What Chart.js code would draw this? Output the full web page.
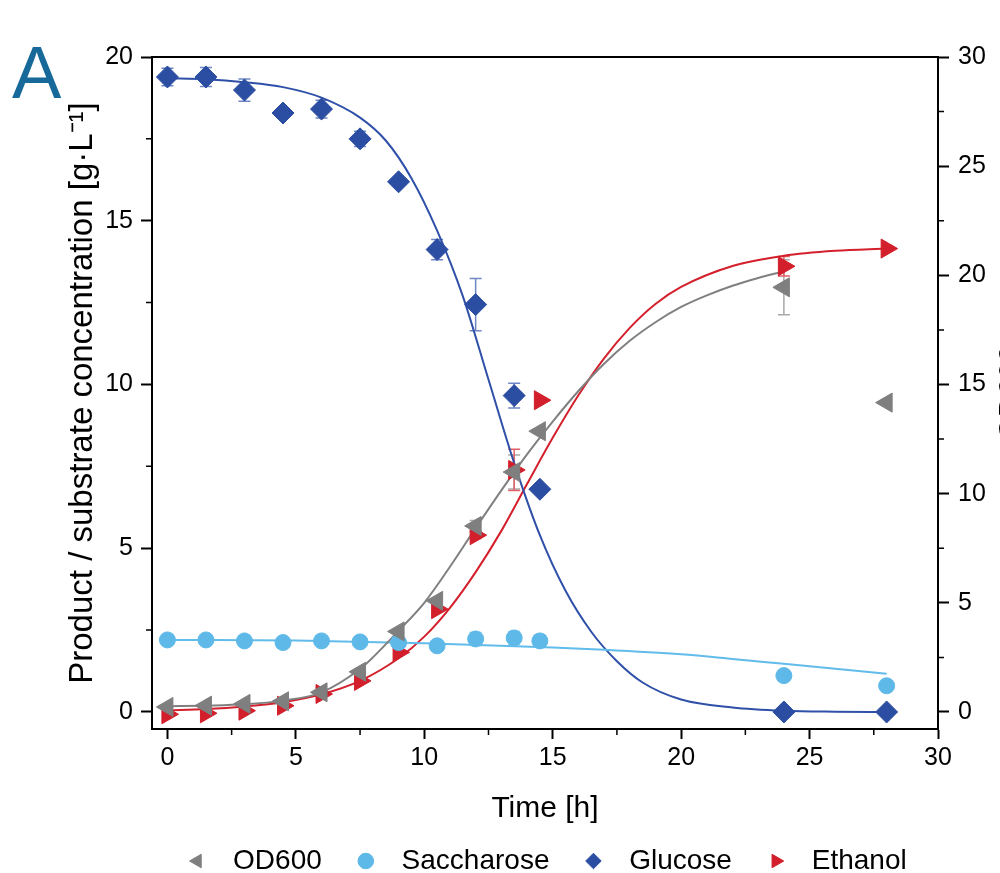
<!DOCTYPE html>
<html>
<head>
<meta charset="utf-8">
<script src="https://cdn.jsdelivr.net/npm/chart.js@4.4.0/dist/chart.umd.min.js"></script>
<style>
  html, body { margin: 0; padding: 0; background: #fff; }
</style>
</head>
<body>
<canvas id="chart" width="1000" height="873"></canvas>
<script>
// sampling times [h]
const time = [0, 1.5, 3, 4.5, 6, 7.5, 9, 10.5, 12, 13.5, 14.5, 24, 28];

// measured points (OD600 on right axis, others in g/L)
const od600 = [0.23, 0.29, 0.37, 0.49, 0.9, 1.84, 3.69, 5.09, 8.52, 10.99, 12.86, 19.45, 14.17];
const od600Err = [0, 0, 0, 0, 0, 0, 0, 0, 0.25, 0.78, 0, 1.26, 0];
const saccharose = [2.2, 2.2, 2.17, 2.12, 2.17, 2.14, 2.12, 2.02, 2.23, 2.26, 2.17, 1.11, 0.8];
const saccharoseErr = [0, 0, 0, 0, 0, 0, 0, 0, 0.2, 0.2, 0.18, 0, 0];
const glucose = [19.39, 19.39, 18.99, 18.29, 18.41, 17.5, 16.19, 14.12, 12.44, 9.66, 6.8, 0, 0];
const glucoseErr = [0.27, 0.29, 0.34, 0.13, 0.27, 0.23, 0, 0.31, 0.8, 0.38, 0, 0, 0];
const ethanol = [-0.07, -0.04, 0.04, 0.19, 0.55, 0.95, 1.82, 3.14, 5.4, 7.39, 9.52, 13.61, 14.15];
const ethanolErr = [0, 0, 0, 0, 0, 0, 0, 0, 0.1, 0.63, 0, 0.3, 0];

// fitted curves
const odFitT = [0, 1.5, 3, 4.5, 6, 7.5, 8, 9, 10, 11, 12, 13, 14, 15, 16, 17, 18, 19, 20, 21, 22, 23, 24];
const odFit = [0.26, 0.29, 0.35, 0.52, 0.9, 1.97, 2.5, 3.72, 5.0, 6.65, 8.42, 10.15, 11.8, 13.3, 14.7, 15.95, 17.0, 17.85, 18.55, 19.08, 19.52, 19.88, 20.18];
const saccharoseFitT = [0, 5, 10, 15, 17, 20, 22, 24, 26, 28];
const saccharoseFit = [2.2, 2.18, 2.1, 1.97, 1.9, 1.76, 1.62, 1.47, 1.32, 1.17];
const glucoseFitT = [0, 1.5, 3, 4.5, 6, 7.5, 8.5, 9.5, 10.5, 11.5, 12.5, 13.5, 14.5, 15.5, 16.5, 17.5, 18.5, 20, 22, 24, 26, 28];
const glucoseFit = [19.35, 19.32, 19.23, 19.08, 18.76, 18.15, 17.45, 16.3, 14.7, 12.7, 10.15, 7.6, 5.4, 3.7, 2.45, 1.55, 0.9, 0.38, 0.14, 0.04, 0.01, 0];
const ethanolFitT = [0, 1.5, 3, 4.5, 6, 7.5, 9, 10, 11, 12, 13, 14, 15, 16, 17, 18, 19, 20, 22, 24, 26, 28];
const ethanolFit = [0.05, 0.09, 0.17, 0.3, 0.54, 0.95, 1.64, 2.3, 3.18, 4.27, 5.53, 6.96, 8.37, 9.67, 10.8, 11.73, 12.46, 12.98, 13.62, 13.93, 14.08, 14.15];

// axis ticks
const xTicks = [0, 5, 10, 15, 20, 25, 30];
const xMinor = [2.5, 7.5, 12.5, 17.5, 22.5, 27.5];
const yTicks = [0, 5, 10, 15, 20];
const yMinor = [2.5, 7.5, 12.5, 17.5];
const y2Ticks = [0, 5, 10, 15, 20, 25, 30];
const y2Minor = [2.5, 7.5, 12.5, 17.5, 22.5, 27.5];

const FONT = "'Liberation Sans', Arial, sans-serif";
const legendShift = 45;

function pts(xs, ys) {
  return xs.map((x, i) => ({x: x, y: ys[i]}));
}

function pointSet(label, data, err, style, rot, radius, color, errColor, axis) {
  return {
    type: 'scatter', label: label, data: pts(time, data), errors: err, errColor: errColor,
    yAxisID: axis, pointStyle: style, pointRotation: rot, pointRadius: radius,
    pointBackgroundColor: color, pointBorderColor: color, backgroundColor: color,
    borderColor: color, pointBorderWidth: 1, showLine: false
  };
}

function curve(xs, ys, color, axis) {
  return {
    type: 'line', data: pts(xs, ys), yAxisID: axis, borderColor: color, borderWidth: 2,
    pointRadius: 0, cubicInterpolationMode: 'monotone', fill: false
  };
}

const errorBars = {
  id: 'errorBars',
  beforeDatasetsDraw(chart) {
    const ctx = chart.ctx;
    const xs = chart.scales.x;
    chart.data.datasets.forEach(ds => {
      if (!ds.errors) return;
      const ys = chart.scales[ds.yAxisID];
      ctx.save();
      ctx.strokeStyle = ds.errColor;
      ctx.lineWidth = 1.5;
      ds.data.forEach((p, j) => {
        const e = ds.errors[j];
        if (!e) return;
        const x = xs.getPixelForValue(p.x);
        const lo = ys.getPixelForValue(p.y - e);
        const hi = ys.getPixelForValue(p.y + e);
        ctx.beginPath();
        ctx.moveTo(x, lo); ctx.lineTo(x, hi);
        ctx.moveTo(x - 6, lo); ctx.lineTo(x + 6, lo);
        ctx.moveTo(x - 6, hi); ctx.lineTo(x + 6, hi);
        ctx.stroke();
      });
      ctx.restore();
    });
  }
};

const decor = {
  id: 'decor',
  afterLayout(chart) {
    chart.legend.left += legendShift;
    chart.legend.right += legendShift;
  },
  afterDraw(chart) {
    const ctx = chart.ctx;
    const a = chart.chartArea;
    const s = chart.scales;
    ctx.save();
    ctx.strokeStyle = '#000';
    ctx.lineWidth = 2;
    ctx.beginPath();
    ctx.moveTo(a.left - 1, a.top);
    ctx.lineTo(a.right + 1, a.top);
    ctx.stroke();

    // minor ticks
    ctx.lineWidth = 1.5;
    ctx.beginPath();
    xMinor.forEach(v => {
      const p = s.x.getPixelForValue(v);
      ctx.moveTo(p, a.bottom); ctx.lineTo(p, a.bottom + 6);
    });
    yMinor.forEach(v => {
      const p = s.y.getPixelForValue(v);
      ctx.moveTo(a.left, p); ctx.lineTo(a.left - 6, p);
    });
    y2Minor.forEach(v => {
      const p = s.y2.getPixelForValue(v);
      ctx.moveTo(a.right, p); ctx.lineTo(a.right + 6, p);
    });
    ctx.stroke();

    // panel letter
    ctx.fillStyle = '#17699A';
    ctx.font = '74px ' + FONT;
    ctx.textBaseline = 'alphabetic';
    ctx.textAlign = 'left';
    ctx.fillText('A', 12, 98);

    // right axis title, cut off by the image edge
    ctx.fillStyle = '#000';
    ctx.font = '30px ' + FONT;
    ctx.translate(996, (a.top + a.bottom) / 2);
    ctx.rotate(-Math.PI / 2);
    ctx.textAlign = 'center';
    ctx.textBaseline = 'top';
    ctx.fillText('OD600', 0, 0);
    ctx.restore();
  }
};

function axisBase(min, max, ticksArr, pos, tickPad) {
  return {
    type: 'linear', min: min, max: max, position: pos,
    afterBuildTicks: sc => { sc.ticks = ticksArr.map(v => ({value: v})); },
    grid: { drawOnChartArea: false, drawTicks: true, tickLength: 11, tickWidth: 2, tickColor: '#000' },
    border: { display: true, color: '#000', width: 2 },
    ticks: { color: '#000', font: { family: FONT, size: 25 }, padding: tickPad, maxRotation: 0, autoSkip: false }
  };
}

window.onload = function () {
  const ctx = document.getElementById('chart');

  const xAxis = axisBase(-0.6, 30, xTicks, 'bottom', 4);
  xAxis.grid.tickLength = 10;
  xAxis.afterFit = sc => { sc.height = 88; };
  xAxis.title = { display: true, text: 'Time [h]', color: '#000', font: { family: FONT, size: 30 }, padding: { top: 0, bottom: -10 } };

  const yAxis = axisBase(-0.52, 20, yTicks, 'left', 8);
  yAxis.afterFit = sc => { sc.width = 152; };
  yAxis.title = { display: true, text: 'Product / substrate concentration [g·L⁻¹]', color: '#000', font: { family: FONT, size: 33 }, padding: { top: 63, bottom: 0 } };

  const y2Axis = axisBase(-0.78, 30, y2Ticks, 'right', 9);
  y2Axis.afterFit = sc => { sc.width = 62; };

  const config = {
    data: {
      datasets: [
        pointSet('OD600', od600, od600Err, 'triangle', -90, 11, '#7F7F7F', '#A9A9A9', 'y2'),
        pointSet('Saccharose', saccharose, saccharoseErr, 'circle', 0, 8, '#5EB9E8', '#8ED0F0', 'y'),
        pointSet('Glucose', glucose, glucoseErr, 'rectRot', 0, 11, '#2C4EA2', '#6F86C4', 'y'),
        pointSet('Ethanol', ethanol, ethanolErr, 'triangle', 90, 11, '#D21F2B', '#E06068', 'y'),
        curve(odFitT, odFit, '#808080', 'y2'),
        curve(saccharoseFitT, saccharoseFit, '#62BCEB', 'y'),
        curve(glucoseFitT, glucoseFit, '#2F50A8', 'y'),
        curve(ethanolFitT, ethanolFit, '#D3202C', 'y')
      ]
    },
    options: {
      responsive: false,
      animation: false,
      devicePixelRatio: 1,
      layout: { padding: { top: 57, left: 0, right: 0, bottom: -12 } },
      scales: { x: xAxis, y: yAxis, y2: y2Axis },
      plugins: {
        tooltip: { enabled: false },
        legend: {
          position: 'bottom',
          align: 'center',
          labels: {
            usePointStyle: true, boxWidth: 28, boxHeight: 11, padding: 30, color: '#000',
            font: { family: FONT, size: 28 },
            generateLabels: chart => Chart.defaults.plugins.legend.labels.generateLabels(chart)
              .map(item => { item.text = ' ' + item.text; return item; }),
            filter: item => item.datasetIndex < 4
          }
        }
      }
    },
    plugins: [errorBars, decor]
  };

  new Chart(ctx, config);
};
</script>
</body>
</html>
